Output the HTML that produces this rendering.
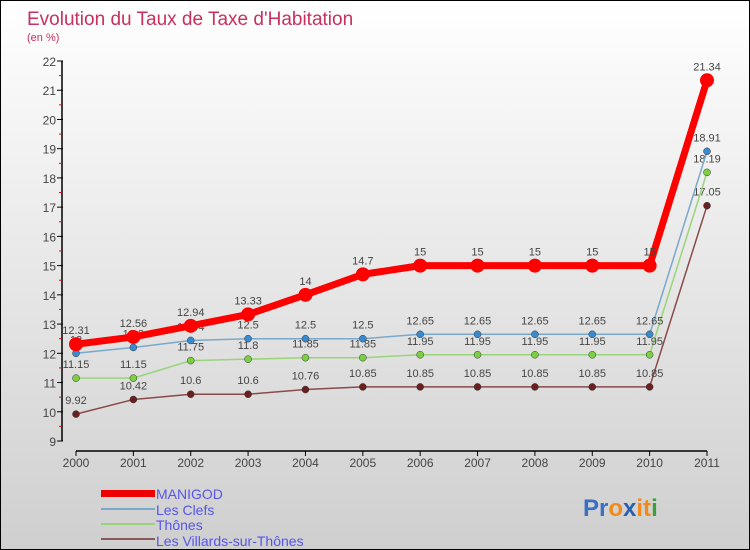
<!DOCTYPE html>
<html><head><meta charset="utf-8"><style>
body{margin:0}
#c{width:748px;height:548px;border:1px solid #000;background:linear-gradient(#fff,#cfcfcf);position:relative;font-family:"Liberation Sans",sans-serif;overflow:hidden}
</style></head><body>
<div id="c">
<svg id="s" width="748" height="548" style="position:absolute;left:0;top:0">
<text x="26" y="24" font-size="19" fill="#c8305e">Evolution du Taux de Taxe d'Habitation</text>
<text x="26" y="40" font-size="11" fill="#c8305e">(en %)</text>
<g id="axes"></g><g id="series"></g>
<g font-size="14" fill="#5555ee">
<rect x="100" y="489" width="54" height="7" fill="#e00"/>
<text x="155" y="498">MANIGOD</text>
<rect x="100" y="507" width="54" height="2" fill="#7aa8cc"/>
<text x="155" y="514">Les Clefs</text>
<rect x="100" y="522" width="54" height="2" fill="#9ad47a"/>
<text x="155" y="529">Thônes</text>
<rect x="100" y="537" width="54" height="2" fill="#8a5a5a"/>
<text x="155" y="545">Les Villards-sur-Thônes</text>
</g>
<text x="582" y="515" font-size="24" font-weight="bold"><tspan fill="#3a6fc4">Pr</tspan><tspan fill="#f08a1a">o</tspan><tspan fill="#2a5fb0">x</tspan><tspan fill="#f08a1a">it</tspan><tspan fill="#3aa03a">i</tspan></text>
</svg>
</div>
<script>
const years=["2000","2001","2002","2003","2004","2005","2006","2007","2008","2009","2010","2011"];
const yTicks=[9,10,11,12,13,14,15,16,17,18,19,20,21,22];
const manigod=[12.31,12.56,12.94,13.33,14,14.7,15,15,15,15,15,21.34];
const lesClefs=[12,12.2,12.44,12.5,12.5,12.5,12.65,12.65,12.65,12.65,12.65,18.91];
const thones=[11.15,11.15,11.75,11.8,11.85,11.85,11.95,11.95,11.95,11.95,11.95,18.19];
const villards=[9.92,10.42,10.6,10.6,10.76,10.85,10.85,10.85,10.85,10.85,10.85,17.05];
const NS="http://www.w3.org/2000/svg";
const X=i=>75+i*(631/11);
const Y=v=>440-(v-9)*(380/13);
function mk(t,a,p){const e=document.createElementNS(NS,t);for(const k in a)e.setAttribute(k,a[k]);p.appendChild(e);return e;}
const ax=document.getElementById('axes');
let l=mk('line',{x1:61,y1:Y(22),x2:61,y2:Y(9),stroke:'#000','stroke-width':1.5},ax);


l=mk('line',{x1:X(0),y1:450,x2:X(11),y2:450,stroke:'#000','stroke-width':1.5},ax);


yTicks.forEach(v=>{
 mk('line',{x1:56,y1:Y(v),x2:62,y2:Y(v),stroke:'#000'},ax);
 if(v<22)mk('line',{x1:58,y1:Y(v+0.5),x2:61,y2:Y(v+0.5),stroke:'#e00'},ax);
 const t=mk('text',{x:55,y:Y(v)+5,'text-anchor':'end','font-size':12,fill:'#444'},ax);t.textContent=v;
 
 
});
years.forEach((y,i)=>{
 mk('line',{x1:X(i),y1:450,x2:X(i),y2:455,stroke:'#000'},ax);
 const t=mk('text',{x:X(i),y:466,'text-anchor':'middle','font-size':12,fill:'#444'},ax);t.textContent=y;
 
 
});
const sg=document.getElementById('series');
function draw(d,col,w,r,name,lc){
 const g=mk('g',{},sg);
 
 
 const p=mk('polyline',{points:d.map((v,i)=>X(i)+','+Y(v)).join(' '),fill:'none',stroke:lc,'stroke-width':w,'stroke-linejoin':'round'},g);
 
 
 d.forEach((v,i)=>{
  const c=mk('circle',{cx:X(i),cy:Y(v),r:r,fill:col,stroke:'#333','stroke-width':r>5?0:0.5},g);
  
  
  const t=mk('text',{x:X(i),y:Y(v)-10,'text-anchor':'middle','font-size':11,fill:'#444'},g);t.textContent=String(v);
  
  
 });
}
draw(villards,'#6b1f1f',1.5,3.5,'villards','#8a4a4a');
draw(thones,'#7ad040',1.5,3.5,'thones','#9ad47a');
draw(lesClefs,'#3a8ad0',1.5,3.5,'les-clefs','#7aa8cc');
draw(manigod,'#f00',7,7,'manigod','#f00');
</script>
</body></html>
